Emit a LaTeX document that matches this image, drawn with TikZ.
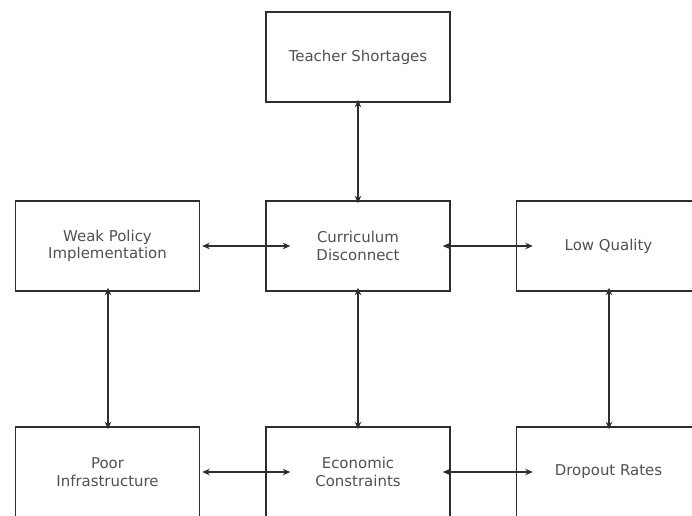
\documentclass[tikz,border=0pt]{standalone}
\usepackage{fontspec}
\setmainfont{DejaVu Sans}
\usetikzlibrary{arrows.meta}
\definecolor{txt}{HTML}{505050}
\definecolor{edge}{HTML}{2E2E2E}
\begin{document}
\begin{tikzpicture}[x=1bp,y=-1bp,
  box/.style={draw=edge, line width=1.5bp, minimum width=184bp, minimum height=90bp,
    inner sep=0pt, align=center, text=txt, font=\fontsize{15}{17.5}\selectfont},
  link/.style={draw=edge, line width=1.5bp, {Stealth[length=7.5bp,width=6.5bp]}-{Stealth[length=7.5bp,width=6.5bp]}}]
\useasboundingbox (0,0) rectangle (692,516);
\clip (0,0) rectangle (692,516);
\node[box] (ts) at (358,57) {Teacher Shortages};
\node[box] (wp) at (107.5,246) {Weak Policy\\Implementation};
\node[box] (cd) at (358,246) {Curriculum\\Disconnect};
\node[box] (lq) at (608.5,246) {Low Quality};
\node[box] (pi) at (107.5,472) {Poor\\Infrastructure};
\node[box] (ec) at (358,472) {Economic\\Constraints};
\node[box] (dr) at (608.5,472) {Dropout Rates};
\draw[link] ([yshift=3bp]ts.south) -- ([yshift=-3bp]cd.north);
\draw[link] ([xshift=2bp]wp.east) -- ([xshift=25bp]cd.west);
\draw[link] ([xshift=-8bp]cd.east) -- ([xshift=17bp]lq.west);
\draw[link] ([yshift=4bp,xshift=0.5bp]wp.south) -- ([yshift=-3bp,xshift=0.5bp]pi.north);
\draw[link] ([yshift=4bp]cd.south) -- ([yshift=-3bp]ec.north);
\draw[link] ([yshift=4bp,xshift=0.5bp]lq.south) -- ([yshift=-3bp,xshift=0.5bp]dr.north);
\draw[link] ([xshift=2bp]pi.east) -- ([xshift=25bp]ec.west);
\draw[link] ([xshift=-8bp]ec.east) -- ([xshift=17bp]dr.west);
\end{tikzpicture}
\end{document}
